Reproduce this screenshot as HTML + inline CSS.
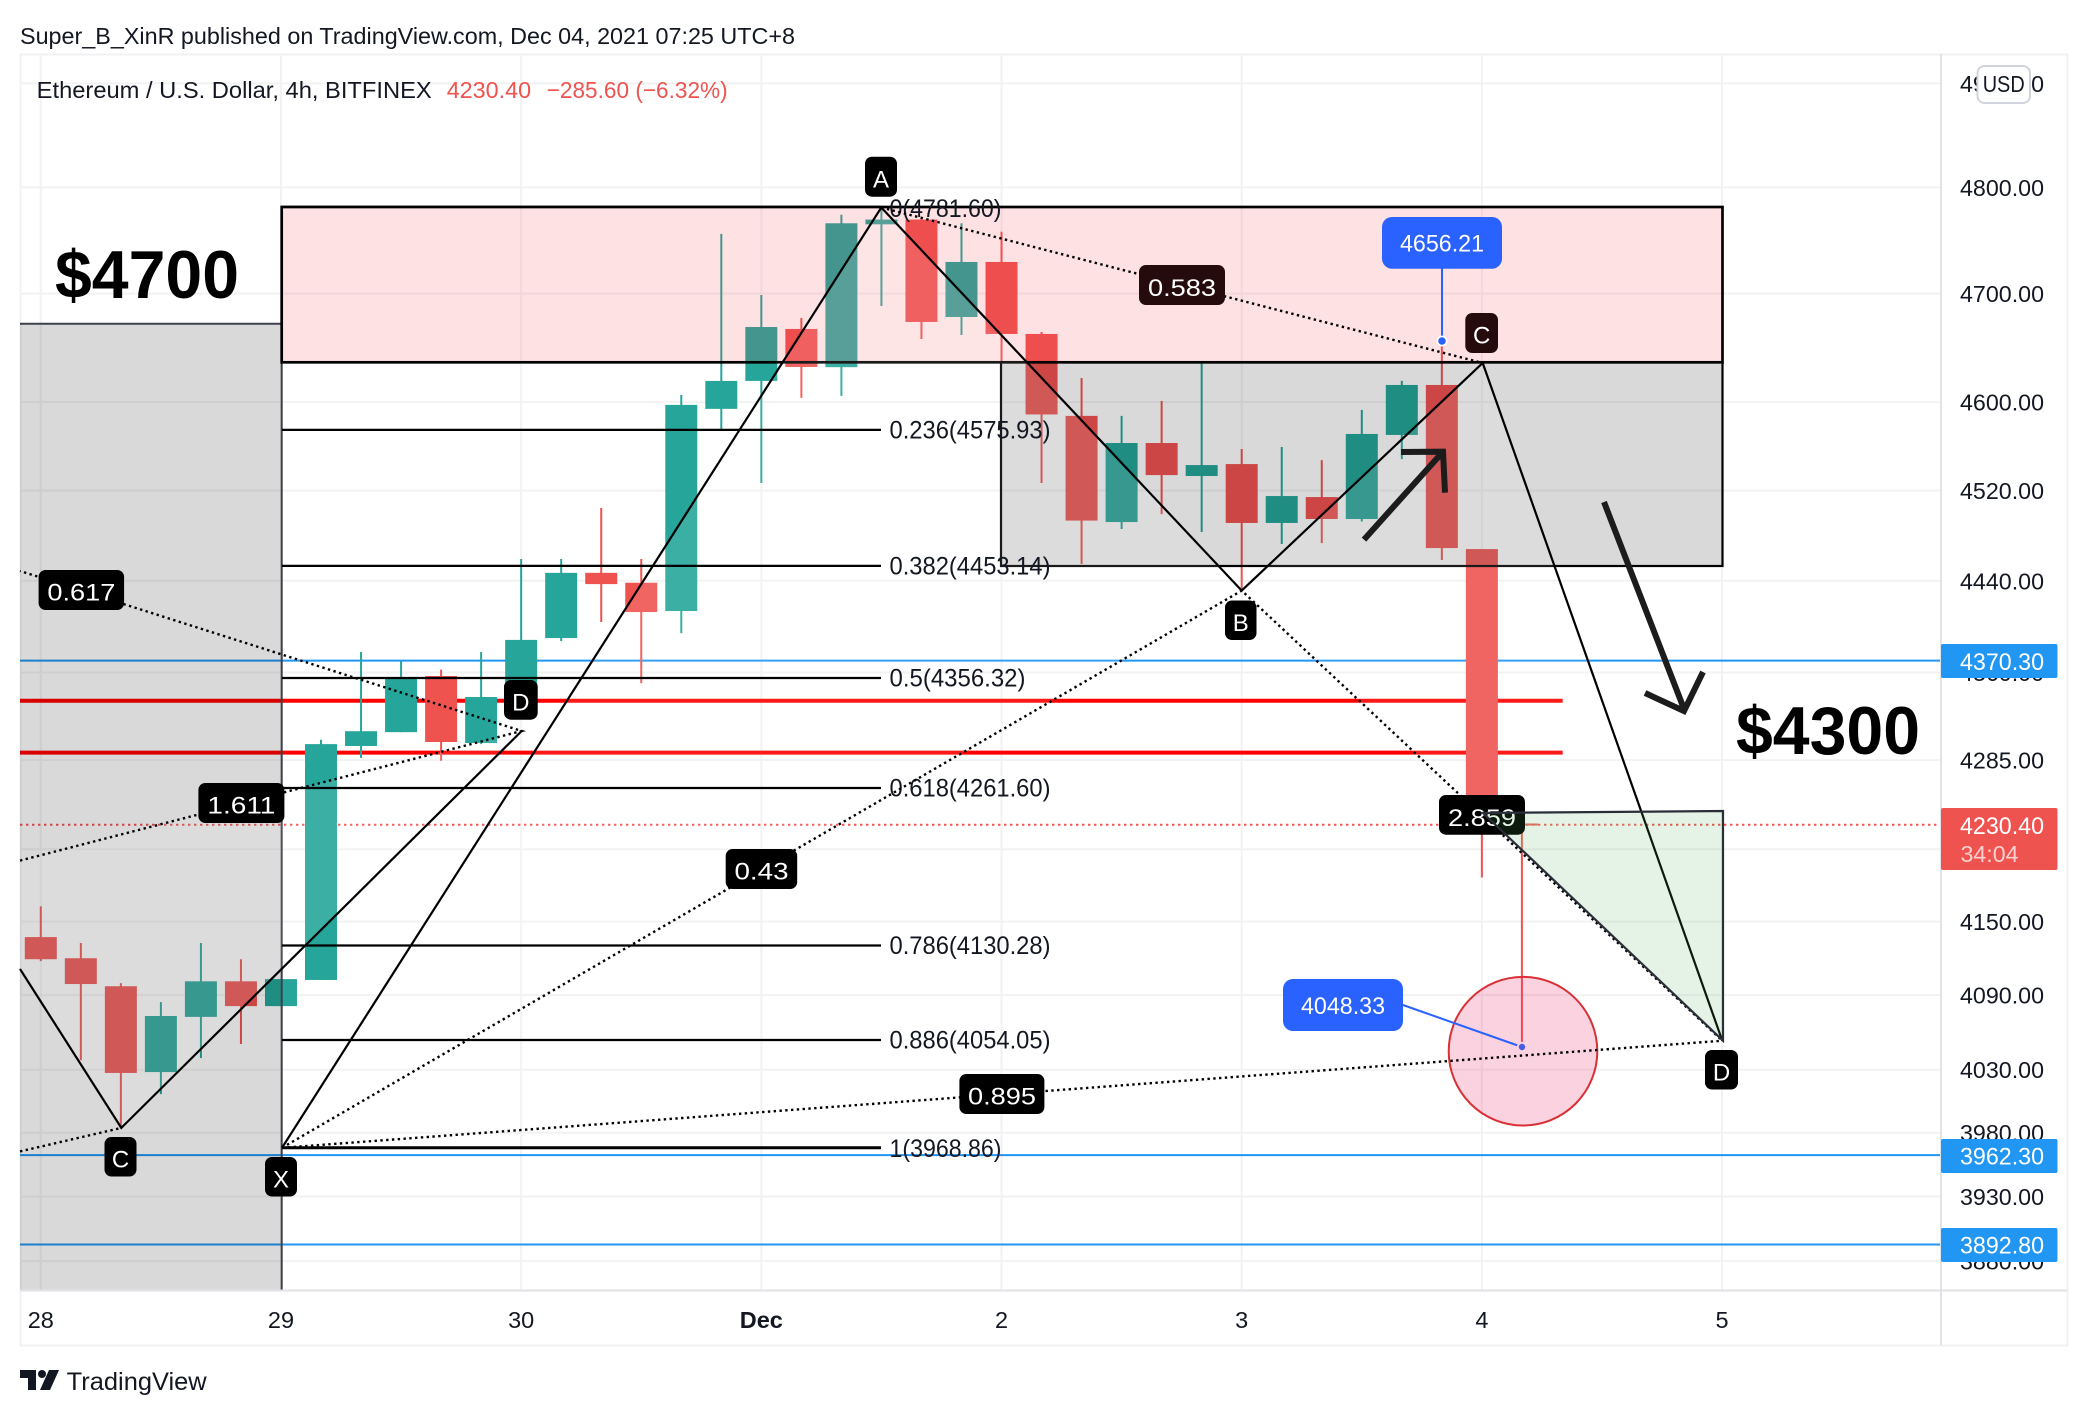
<!DOCTYPE html>
<html lang="en">
<head>
<meta charset="utf-8">
<title>ETHUSD 4h chart</title>
<style>
html,body{margin:0;padding:0;background:#fff;}
svg{display:block;font-family:"Liberation Sans",sans-serif;}
.w{fill:#fff;font-size:24px;text-anchor:middle;}
.fib{fill:#131722;font-size:25px;}
.fl{stroke:#000;stroke-width:2.2;fill:none;}
.sl{stroke:#000;stroke-width:2.2;fill:none;}
.dl{stroke:#000;stroke-width:2.4;fill:none;stroke-dasharray:2.4 3.4;}
.bd{fill:#000;}
.bt{fill:#260b0d;}
.arrow{stroke:#1c1c1c;stroke-width:6;fill:none;}
</style>
</head>
<body>
<svg id="chart" xmlns="http://www.w3.org/2000/svg" width="2088" height="1416" viewBox="0 0 2088 1416">
  <rect x="0" y="0" width="2088" height="1416" fill="#fff"/>
  <text x="20" y="44" font-size="23.5" fill="#131722" textLength="775" lengthAdjust="spacingAndGlyphs">Super_B_XinR published on TradingView.com, Dec 04, 2021 07:25 UTC+8</text>
  <rect x="20.5" y="54.5" width="2047" height="1291" fill="none" stroke="#f0f1f2" stroke-width="2"/>

  <g id="grid"></g>
  <g id="levels"></g>
  <g id="candles"></g>

  <rect x="20" y="323.7" width="261.7" height="967" fill="rgba(0,0,0,.15)"/>
  <path d="M20 323.7H281.7V1290.5" fill="none" stroke="#3c404a" stroke-width="2"/>
  <rect x="1001" y="362.3" width="721.5" height="203.7" fill="rgba(0,0,0,.15)" stroke="#000" stroke-width="2.2"/>
  <rect x="281.7" y="207" width="1440.8" height="155.3" fill="rgba(242,54,69,.15)" stroke="#000" stroke-width="2.7"/>

  <g>
    <polygon points="282,1147.8 881.3,207.5 1241.7,590.6" fill="rgba(255,255,255,.1)"/>
    <polygon points="1241.7,590.6 1482.7,363 1722.3,1040.7" fill="rgba(255,255,255,.1)"/>
    <polygon points="20,860.6 521.7,731 121.3,1127.9 20,969" fill="rgba(255,255,255,.1)"/>
  </g>

  <circle cx="1523" cy="1051.2" r="74.3" fill="rgba(233,30,99,.2)" stroke="#d93035" stroke-width="2"/>

  <g>
    <path class="fl" d="M282 206.8H881"/>
    <path class="fl" d="M282 429.9H881"/>
    <path class="fl" d="M282 565.9H881"/>
    <path class="fl" d="M282 678H881"/>
    <path class="fl" d="M282 788H881"/>
    <path class="fl" d="M282 945.5H881"/>
    <path class="fl" d="M282 1040H881"/>
    <path class="fl" d="M282 1147.8H881" style="stroke-width:3"/>
    <text class="fib" x="889.5" y="217" textLength="112" lengthAdjust="spacingAndGlyphs">0(4781.60)</text>
    <text class="fib" x="889.5" y="438.5" textLength="161" lengthAdjust="spacingAndGlyphs">0.236(4575.93)</text>
    <text class="fib" x="889.5" y="574.5" textLength="161" lengthAdjust="spacingAndGlyphs">0.382(4453.14)</text>
    <text class="fib" x="889.5" y="686.5" textLength="136" lengthAdjust="spacingAndGlyphs">0.5(4356.32)</text>
    <text class="fib" x="889.5" y="796.5" textLength="161" lengthAdjust="spacingAndGlyphs">0.618(4261.60)</text>
    <text class="fib" x="889.5" y="954" textLength="161" lengthAdjust="spacingAndGlyphs">0.786(4130.28)</text>
    <text class="fib" x="889.5" y="1048.5" textLength="161" lengthAdjust="spacingAndGlyphs">0.886(4054.05)</text>
    <text class="fib" x="889.5" y="1157" textLength="112" lengthAdjust="spacingAndGlyphs">1(3968.86)</text>
  </g>

  <g>
    <path class="sl" d="M282 1147.8L881.3 207.5L1241.7 590.6L1482.7 363L1722.3 1040.7"/>
    <path class="dl" d="M282 1147.8L1241.7 590.6L1722.3 1040.7"/>
    <path class="dl" d="M881.3 207.5L1482.7 363"/>
    <path class="dl" d="M282 1147.8L1722.3 1040.7"/>
  </g>
  <g>
    <path class="sl" d="M20 969L121.3 1127.9L521.7 731"/>
    <path class="dl" d="M20 1151.4L121.3 1127.9"/>
    <path class="dl" d="M20 860.6L521.7 731L20 571"/>
  </g>

  <g>
    <path d="M1442 268V341" stroke="#2962ff" stroke-width="2"/>
    <circle cx="1442" cy="341" r="4.6" fill="#2962ff" stroke="#fff" stroke-width="1.6"/>
    <rect x="1382" y="217" width="120" height="51.7" rx="10" fill="#2962ff"/>
    <text class="w" x="1442" y="251.7" textLength="84" lengthAdjust="spacingAndGlyphs">4656.21</text>
  </g>
  <g>
    <path d="M1403 1005L1522 1047" stroke="#2962ff" stroke-width="2"/>
    <circle cx="1522" cy="1047" r="4.2" fill="#4a5ae0" stroke="#f9d2df" stroke-width="2"/>
    <rect x="1283" y="979" width="120" height="52" rx="10" fill="#2962ff"/>
    <text class="w" x="1343" y="1014" textLength="84" lengthAdjust="spacingAndGlyphs">4048.33</text>
  </g>

  <g>
    <rect class="bd" x="38.6" y="570" width="85.5" height="40" rx="7"/>
    <text class="w" x="81.4" y="600.7" textLength="68" lengthAdjust="spacingAndGlyphs">0.617</text>
    <rect class="bt" x="1139" y="265" width="86" height="40" rx="7"/>
    <text class="w" x="1182" y="296" textLength="68" lengthAdjust="spacingAndGlyphs">0.583</text>
    <rect class="bd" x="198.4" y="783" width="86" height="40" rx="7"/>
    <text class="w" x="241.4" y="813.7" textLength="68" lengthAdjust="spacingAndGlyphs">1.611</text>
    <rect class="bd" x="725.7" y="849" width="71.5" height="40" rx="7"/>
    <text class="w" x="761.5" y="879.7" textLength="54" lengthAdjust="spacingAndGlyphs">0.43</text>
    <rect class="bd" x="959.4" y="1074" width="85" height="40" rx="7"/>
    <text class="w" x="1002" y="1104.7" textLength="68" lengthAdjust="spacingAndGlyphs">0.895</text>
    <rect class="bd" x="1439" y="795" width="86" height="39.7" rx="7"/>
    <text class="w" x="1482" y="826" textLength="68" lengthAdjust="spacingAndGlyphs">2.859</text>
    <rect class="bd" x="865" y="156.7" width="32" height="40" rx="7"/>
    <text class="w" x="881" y="187.3">A</text>
    <rect class="bd" x="1225" y="600.5" width="31.5" height="39.5" rx="7"/>
    <text class="w" x="1240.7" y="631">B</text>
    <rect class="bt" x="1465.3" y="313" width="32.7" height="40" rx="7"/>
    <text class="w" x="1481.7" y="343.5">C</text>
    <rect class="bd" x="1705" y="1050" width="33" height="39.5" rx="7"/>
    <text class="w" x="1721.5" y="1080.7">D</text>
    <rect class="bd" x="504" y="680" width="33.7" height="39.7" rx="7"/>
    <text class="w" x="520.8" y="710.7">D</text>
    <rect class="bd" x="104.5" y="1137" width="32" height="39.5" rx="7"/>
    <text class="w" x="120.5" y="1167.7">C</text>
    <rect class="bd" x="265" y="1157" width="32" height="39.5" rx="7"/>
    <text class="w" x="281" y="1187.7">X</text>
  </g>

  <polygon points="1483,813 1723,811 1723,1040.7" fill="rgba(76,175,80,.15)" stroke="#2a2e39" stroke-width="2.2"/>

  <g>
    <path class="arrow" d="M1364 539.6L1443 451.7M1401 452L1443 451.7L1445 492.7"/>
    <path class="arrow" d="M1604 502L1684 709M1645 693L1684 711L1703 672"/>
  </g>

  <text x="55" y="298" font-size="68" font-weight="bold" fill="#000" textLength="184" lengthAdjust="spacingAndGlyphs">$4700</text>
  <text x="1736" y="754" font-size="68" font-weight="bold" fill="#000" textLength="184" lengthAdjust="spacingAndGlyphs">$4300</text>

  <text x="36.7" y="98" font-size="23.5" fill="#131722" textLength="395" lengthAdjust="spacingAndGlyphs">Ethereum / U.S. Dollar, 4h, BITFINEX</text>
  <text x="446.7" y="98" font-size="23.5" fill="#ef5350" textLength="84.5" lengthAdjust="spacingAndGlyphs">4230.40</text>
  <text x="546.7" y="98" font-size="23.5" fill="#ef5350" textLength="181" lengthAdjust="spacingAndGlyphs">−285.60 (−6.32%)</text>

  <path d="M20 1290.5H2067M1941 54V1345" fill="none" stroke="#e0e2e6" stroke-width="2"/>
  <g id="ticks"></g>

  <rect x="1977.5" y="66" width="52.5" height="37" rx="7" fill="#fff" stroke="#d1d4dc" stroke-width="2"/>
  <text x="2003.7" y="92" font-size="23" fill="#131722" text-anchor="middle" textLength="42" lengthAdjust="spacingAndGlyphs">USD</text>

  <rect x="1941" y="644" width="116.5" height="34" rx="2" fill="#2196f3"/>
  <text class="w" x="2002" y="670" textLength="84" lengthAdjust="spacingAndGlyphs">4370.30</text>
  <rect x="1941" y="808" width="116.5" height="62" rx="2" fill="#ef5350"/>
  <text class="w" x="2002" y="834" textLength="84" lengthAdjust="spacingAndGlyphs">4230.40</text>
  <text x="1960.5" y="862" font-size="23" fill="#fbd0cf" textLength="58" lengthAdjust="spacingAndGlyphs">34:04</text>
  <rect x="1941" y="1139" width="116.5" height="34" rx="2" fill="#2196f3"/>
  <text class="w" x="2002" y="1164.5" textLength="84" lengthAdjust="spacingAndGlyphs">3962.30</text>
  <rect x="1941" y="1228" width="116.5" height="34" rx="2" fill="#2196f3"/>
  <text class="w" x="2002" y="1253.5" textLength="84" lengthAdjust="spacingAndGlyphs">3892.80</text>

  <g fill="#131722">
    <path d="M20 1370H36V1390H28V1378H20Z"/>
    <circle cx="42" cy="1374" r="4"/>
    <path d="M49 1370H59L50 1390H40Z"/>
  </g>
  <text x="66.7" y="1390" font-size="25" fill="#131722" textLength="140" lengthAdjust="spacingAndGlyphs">TradingView</text>
</svg>
<script>
const opens  = [4137.3,4120,4097.2,4028.1,4072.4,4101.2,4081.1,4102.3,4297,4308.8,4357,4299.5,4338.9,4389.9,4447,4438.3,4413.5,4593.9,4619.4,4667.2,4632,4765,4769.5,4678.3,4729.6,4662.6,4587.5,4492,4562.9,4533.2,4543.9,4491.2,4514.3,4494.7,4570.2,4615.7,4468,4231.5];
const highs  = [4162.6,4132.5,4099.7,4084.3,4132.5,4119.2,4103,4302.3,4377.8,4369.5,4362.5,4377.8,4459.2,4459.2,4504.5,4459.2,4606.6,4756,4698.7,4677.4,4774,4781.6,4772.3,4766,4758,4664.4,4622.1,4587.5,4601.1,4635.9,4557.5,4559.3,4547.5,4593,4619.4,4656.21,4468,4231.5];
const lows   = [4117.7,4037.5,3983.6,4010.5,4039.3,4050.6,4081.1,4102.3,4286.9,4308.8,4284.4,4298.6,4336.3,4387.2,4403.9,4350.9,4394.2,4575.6,4526.9,4603.9,4605.7,4688.5,4657.9,4661.6,4636.8,4526.9,4454.8,4485.8,4499.1,4483.1,4431.3,4472.5,4473.3,4492.5,4548.4,4458.3,4186.5,4048.33];
const closes = [4119.2,4099,4027.4,4073.1,4101.2,4081.1,4103,4298.6,4309.6,4355.2,4300.4,4338.9,4388.3,4447,4437.1,4412.6,4597.5,4619.4,4669,4632.2,4766,4769.5,4673.7,4729.6,4662.6,4588.8,4493.3,4562.9,4534,4543,4491.2,4515.2,4494.7,4571.1,4615.7,4468.9,4231.5,4230.4];
const priceTicks = [4900,4800,4700,4600,4520,4440,4360,4285,4210,4150,4090,4030,3980,3930,3880];
const dayLabels = ['28','29','30','Dec','2','3','4','5'];
const blueLevels = [4370.3,3962.3,3892.8];
const redLevels = [4335.7,4291.3];

const NS = 'http://www.w3.org/2000/svg';
const BARS_PER_DAY = 6;
function xAt(bar){ return 40.8 + 40.03 * bar; }
function yAt(price){ return 187.4 + 5046 * Math.log(4800 / price); }
function make(tag, parent, attrs){
  const el = document.createElementNS(NS, tag);
  for (const k in attrs) el.setAttribute(k, attrs[k]);
  parent.appendChild(el);
  return el;
}
const gridG = document.getElementById('grid');
const levelsG = document.getElementById('levels');
const candlesG = document.getElementById('candles');
const ticksG = document.getElementById('ticks');

priceTicks.forEach(function(p){
  const y = yAt(p);
  const line = make('line', gridG, {x1:20, x2:1941, y1:y, y2:y, stroke:'#f2f2f3', 'stroke-width':2});
  
  
  const label = make('text', ticksG, {x:2002, y:y+8.5, 'font-size':23.5, fill:'#131722', 'text-anchor':'middle', textLength:84, lengthAdjust:'spacingAndGlyphs'});
  
  
  label.textContent = p.toFixed(2);
});

dayLabels.forEach(function(d, i){
  const x = xAt(i * BARS_PER_DAY);
  const line = make('line', gridG, {x1:x, x2:x, y1:54, y2:1290, stroke:'#f2f2f3', 'stroke-width':2});
  
  
  const label = make('text', ticksG, {x:x, y:1328, 'font-size':23.5, fill:'#131722', 'text-anchor':'middle', 'font-weight': d === 'Dec' ? 'bold' : 'normal'});
  
  
  label.textContent = d;
});

blueLevels.forEach(function(p){
  const y = yAt(p);
  const line = make('line', levelsG, {x1:20, x2:1941, y1:y, y2:y, stroke:'#2196f3', 'stroke-width':2});
  
  
});
redLevels.forEach(function(p){
  const y = yAt(p);
  const line = make('line', levelsG, {x1:20, x2:1562.7, y1:y, y2:y, stroke:'#ff0000', 'stroke-width':4});
  
  
});
const lastClose = closes[closes.length - 1];
const lastLine = make('line', levelsG, {x1:20, x2:1941, y1:yAt(lastClose), y2:yAt(lastClose), stroke:'#ef5350', 'stroke-width':2, 'stroke-dasharray':'2.4 3.6'});



closes.forEach(function(c, i){
  const o = opens[i];
  const color = c >= o ? '#26a69a' : '#ef5350';
  const x = xAt(i);
  const wick = make('line', candlesG, {x1:x, x2:x, y1:yAt(highs[i]), y2:yAt(lows[i]), stroke:color, 'stroke-width':2});
  
  
  const top = yAt(Math.max(o, c));
  const bottom = yAt(Math.min(o, c));
  const body = make('rect', candlesG, {x:x-16, y:top, width:32, height:Math.max(bottom-top, 2), fill:color});
  
  
});
</script>
</body>
</html>
